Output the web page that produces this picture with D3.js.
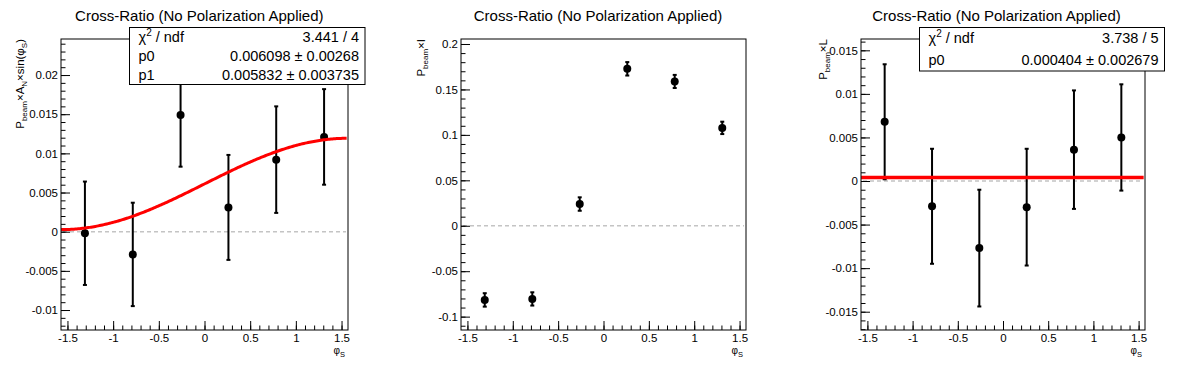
<!DOCTYPE html>
<html>
<head>
<meta charset="utf-8">
<script src="https://cdn.jsdelivr.net/npm/d3@7"></script>
<style>
  html, body { margin: 0; padding: 0; background: #fff; }
  svg { display: block; }
  text { font-family: "Liberation Sans", Arial, Helvetica, sans-serif; fill: #000; }
</style>
</head>
<body>
<svg id="chart" width="1196" height="372"></svg>
<script>
// ---------------- DATA ----------------
const titleText = "Cross-Ratio (No Polarization Applied)";
const phiS = [-1.309, -0.785, -0.262, 0.262, 0.785, 1.309];

// Panel 1: P_beam x A_N x sin(phi_S)
const anVals = [-0.0002, -0.0029, 0.0149, 0.0031, 0.0092, 0.0121];
const anErrs = [0.0066, 0.0066, 0.0066, 0.0067, 0.0068, 0.0061];
const anFitP0 = 0.006098, anFitP1 = 0.005832;
const anStats = [["χ² / ndf", "3.441 / 4"], ["p0", "0.006098 ± 0.00268"], ["p1", "0.005832 ± 0.003735"]];
const anYTicks = [-0.01, -0.005, 0, 0.005, 0.01, 0.015, 0.02];
const anYDomain = [-0.01255, 0.0246];

// Panel 2: P_beam x I
const iVals = [-0.0816, -0.0805, 0.0239, 0.1727, 0.1588, 0.1077];
const iErrs = [0.0074, 0.0073, 0.0074, 0.0074, 0.0072, 0.0068];
const iYTicks = [-0.1, -0.05, 0, 0.05, 0.1, 0.15, 0.2];
const iYDomain = [-0.1147, 0.2055];

// Panel 3: P_beam x L
const lVals = [0.0068, -0.0029, -0.0077, -0.0030, 0.0036, 0.0050];
const lErrs = [0.0066, 0.0066, 0.0067, 0.0067, 0.0068, 0.0061];
const lFitP0 = 0.000404;
const lStats = [["χ² / ndf", "3.738 / 5"], ["p0", "0.000404 ± 0.002679"]];
const lYTicks = [-0.015, -0.01, -0.005, 0, 0.005, 0.01, 0.015];
const lYDomain = [-0.0171, 0.0163];

const xTicks = [-1.5, -1, -0.5, 0, 0.5, 1, 1.5];
const xDomain = [-Math.PI / 2, Math.PI / 2];

// ---------------- DRAW ----------------
const svg = d3.select("#chart");
const TOP = 39, BOTTOM = 330;
const fmt = d => String(+d.toFixed(6));

function drawPanel(cfg) {
  const g = svg.append("g");
  const x = d3.scaleLinear().domain(xDomain).range([cfg.x0, cfg.x1]);
  const y = d3.scaleLinear().domain(cfg.yDomain).range([BOTTOM, TOP]);

  // title
  g.append("text").attr("x", cfg.tx).attr("y", 20.5).attr("text-anchor", "middle")
    .style("font-size", "15px").text(titleText);

  // frame background
  g.append("rect").attr("x", cfg.x0).attr("y", TOP).attr("width", cfg.x1 - cfg.x0)
    .attr("height", BOTTOM - TOP).attr("fill", "#fff");

  // zero dashed line
  g.append("line").attr("x1", cfg.x0 + 2).attr("x2", cfg.x1 - 2)
    .attr("y1", y(0)).attr("y2", y(0))
    .attr("stroke", "#c4c4c4").attr("stroke-width", 1.5).attr("stroke-dasharray", "4,3");

  // error bars
  const eb = g.append("g");
  cfg.vals.forEach((v, i) => {
    const xv = x(phiS[i]);
    const yt = y(v + cfg.errs[i]), yb = y(v - cfg.errs[i]);
    eb.append("line").attr("x1", xv).attr("x2", xv).attr("y1", yt).attr("y2", yb)
      .attr("stroke", "#000").attr("stroke-width", 2);
    [yt, yb].forEach(yy => eb.append("line").attr("x1", xv - 2).attr("x2", xv + 2)
      .attr("y1", yy).attr("y2", yy).attr("stroke", "#000").attr("stroke-width", 2));
  });
  // markers
  g.append("g").selectAll("circle").data(cfg.vals).join("circle")
    .attr("cx", (d, i) => x(phiS[i])).attr("cy", d => y(d)).attr("r", 4).attr("fill", "#000");

  // fit
  if (cfg.fit) {
    const pts = d3.range(0, 201).map(k => xDomain[0] + (xDomain[1] - xDomain[0]) * k / 200 * 0.995 + 0.001);
    g.append("path").datum(pts)
      .attr("d", d3.line().x(d => x(d)).y(d => y(cfg.fit(d))))
      .attr("fill", "none").attr("stroke", "#ff0000").attr("stroke-width", cfg.fitW);
  }

  // axes
  const xMinor = d3.range(-15, 16).map(k => k / 10);
  g.append("g").attr("transform", `translate(0,${BOTTOM})`)
    .call(d3.axisBottom(x).tickValues(xMinor).tickSize(-4.5).tickFormat(""))
    .call(a => a.select(".domain").remove());
  g.append("g").attr("transform", `translate(0,${BOTTOM})`)
    .call(d3.axisBottom(x).tickValues(xTicks).tickSize(-9).tickPadding(3.5).tickFormat(fmt))
    .call(a => a.select(".domain").remove())
    .call(a => a.selectAll("text").style("font-size", "11.5px").attr("font-family", null));

  const yMinor = d3.range(Math.ceil(cfg.yDomain[0] / cfg.minorStep - 1e-6), Math.floor(cfg.yDomain[1] / cfg.minorStep + 1e-6) + 1)
    .map(k => +(k * cfg.minorStep).toFixed(6));
  g.append("g").attr("transform", `translate(${cfg.x0},0)`)
    .call(d3.axisLeft(y).tickValues(yMinor).tickSize(-4.5).tickFormat(""))
    .call(a => a.select(".domain").remove());
  g.append("g").attr("transform", `translate(${cfg.x0},0)`)
    .call(d3.axisLeft(y).tickValues(cfg.yTicks).tickSize(-9).tickPadding(3).tickFormat(fmt))
    .call(a => a.select(".domain").remove())
    .call(a => a.selectAll("text").style("font-size", "11.5px").attr("font-family", null));
  g.selectAll(".tick line").attr("stroke", "#000");

  // frame
  g.append("rect").attr("x", cfg.x0).attr("y", TOP).attr("width", cfg.x1 - cfg.x0)
    .attr("height", BOTTOM - TOP).attr("fill", "none").attr("stroke", "#000").attr("stroke-width", 1);

  // x title
  const xt = g.append("text").attr("x", cfg.x1 - 3).attr("y", 354).attr("text-anchor", "end")
    .style("font-size", "10px");
  xt.append("tspan").text("φ");
  xt.append("tspan").attr("dy", 2.5).style("font-size", "7.5px").text("S");

  // y title
  const yt = g.append("text").attr("transform", `translate(${cfg.ylx},${TOP}) rotate(-90)`)
    .attr("text-anchor", "end").style("font-size", "11.5px");
  cfg.ylab.forEach(part => {
    const t = yt.append("tspan").text(part[0]);
    if (part[1] === "sub") t.attr("dy", 3).style("font-size", "8px");
    if (part[1] === "back") t.attr("dy", -3);
  });

  // stats box
  if (cfg.stats) {
    const b = cfg.box;
    const sg = g.append("g");
    sg.append("rect").attr("x", b.x).attr("y", b.y).attr("width", b.w).attr("height", b.h)
      .attr("fill", "#fff").attr("stroke", "#000").attr("stroke-width", 1);
    const rh = b.h / cfg.stats.length;
    cfg.stats.forEach((row, i) => {
      const cy = b.y + rh * (i + 0.5) + 5;
      const l = sg.append("text").attr("x", b.x + 9).attr("y", cy).style("font-size", "14.5px");
      if (row[0].startsWith("χ²")) {
        l.append("tspan").text("χ");
        l.append("tspan").attr("dy", -6).style("font-size", "10px").text("2");
        l.append("tspan").attr("dy", 6).text(" / ndf");
      } else l.text(row[0]);
      sg.append("text").attr("x", b.x + b.w - 6).attr("y", cy).attr("text-anchor", "end")
        .style("font-size", "14.5px").text(row[1]);
    });
  }
}

drawPanel({
  x0: 61, x1: 348, tx: 199.3, yDomain: anYDomain, yTicks: anYTicks, minorStep: 0.001,
  vals: anVals, errs: anErrs, fit: v => anFitP0 + anFitP1 * Math.sin(v), fitW: 3,
  ylx: 24,
  ylab: [["P"], ["beam", "sub"], ["×A", "back"], ["N", "sub"], ["×sin(φ", "back"], ["S", "sub"], [")", "back"]],
  stats: anStats, box: { x: 129.5, y: 27.5, w: 235.5, h: 57 }
});
drawPanel({
  x0: 461, x1: 746, tx: 598, yDomain: iYDomain, yTicks: iYTicks, minorStep: 0.01,
  vals: iVals, errs: iErrs, fit: null, ylx: 425,
  ylab: [["P"], ["beam", "sub"], ["×I", "back"]]
});
drawPanel({
  x0: 861, x1: 1145, tx: 996.5, yDomain: lYDomain, yTicks: lYTicks, minorStep: 0.001,
  vals: lVals, errs: lErrs, fit: v => lFitP0, fitW: 3.5, ylx: 827,
  ylab: [["P"], ["beam", "sub"], ["×L", "back"]],
  stats: lStats, box: { x: 919.5, y: 27.5, w: 245, h: 43.5 }
});
</script>
</body>
</html>
